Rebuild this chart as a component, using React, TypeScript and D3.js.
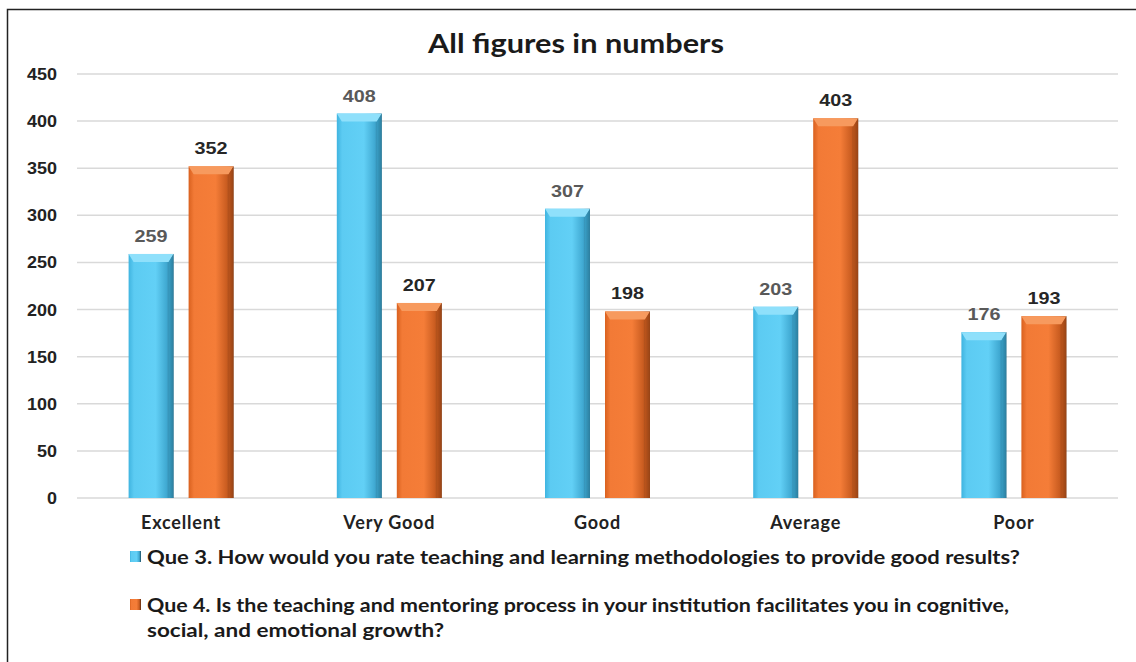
import React from "react";
import * as d3 from "d3";

const categories = ["Excellent", "Very Good", "Good", "Average", "Poor"];
const que3Values = [259, 408, 307, 203, 176];
const que4Values = [352, 207, 198, 403, 193];
const yTicks = [0, 50, 100, 150, 200, 250, 300, 350, 400, 450];
const seriesKeys = ["q3", "q4"];
const seriesNames = [
  "Que 3. How would you rate teaching and learning methodologies to provide good results?",
  "Que 4. Is the teaching and mentoring process in your institution facilitates you in cognitive,",
  "social, and emotional growth?",
];

const W = 1136;
const H = 662;
const FONT = "Lato, 'Open Sans', sans-serif";
const NUMFONT = "'Liberation Sans', Arial, sans-serif";

export default function App() {
  const x = d3.scaleBand<string>().domain(categories).range([77, 1118]).padding(0);
  const inner = d3.scaleBand<string>().domain(seriesKeys).range([-52.5, 52.5]).paddingInner(0.25);
  const y = d3.scaleLinear().domain([0, 450]).range([498, 74]);
  const bw = inner.bandwidth();

  const data = categories.map((c, i) => ({ c, q3: que3Values[i], q4: que4Values[i] }));

  const bar = (key: string, cat: string, v: number) => {
    const cx = (x(cat) as number) + x.bandwidth() / 2;
    const bx = cx + (inner(key) as number);
    const by = y(v);
    const bh = y(0) - by;
    const gid = key === "q3" ? "gBlue" : "gOrange";
    const cap = key === "q3" ? "#8fe0fb" : "#f79a5e";
    const capDark = key === "q3" ? "#3aa9d3" : "#c85a1e";
    const label = String(v);
    return (
      <g key={key + cat}>
        <rect x={bx} y={by} width={bw} height={bh} fill={`url(#${gid})`} />
        <path
          d={`M${bx},${by} L${bx + bw},${by} L${bx + bw - 5},${by + 8} L${bx + 5},${by + 8} Z`}
          fill={cap}
        />
        <path d={`M${bx + bw},${by} L${bx + bw - 5},${by + 8} L${bx + bw - 5},${by + bh} L${bx + bw},${by + bh} Z`} fill={capDark} opacity={0.55} />
        <text
          x={bx + bw / 2}
          y={by - 12}
          textAnchor="middle"
          fontFamily={NUMFONT}
          fontWeight="bold"
          fontSize={17}
          fill={key === "q3" ? "#595959" : "#262626"}
          textLength={label.length * 11}
          lengthAdjust="spacingAndGlyphs"
        >
          {label}
        </text>
      </g>
    );
  };

  return (
    <svg width={W} height={H} style={{ position: "absolute", left: 0, top: 0, background: "#fff" }}>
      <defs>
        <linearGradient id="gBlue" x1="0" x2="1" y1="0" y2="0">
          <stop offset="0" stopColor="#3fb4e0" />
          <stop offset="0.12" stopColor="#5ccbf2" />
          <stop offset="0.6" stopColor="#62d0f6" />
          <stop offset="0.85" stopColor="#3fa8d1" />
          <stop offset="1" stopColor="#1d4a5e" />
        </linearGradient>
        <linearGradient id="gOrange" x1="0" x2="1" y1="0" y2="0">
          <stop offset="0" stopColor="#d9611f" />
          <stop offset="0.12" stopColor="#f27a36" />
          <stop offset="0.6" stopColor="#f57d38" />
          <stop offset="0.85" stopColor="#c95c20" />
          <stop offset="1" stopColor="#5a2a0e" />
        </linearGradient>
      </defs>
      <rect x={0} y={0} width={W} height={H} fill="#fff" />
      <path d={`M7.5,${H} L7.5,9.5 L${W},9.5`} fill="none" stroke="#222" strokeWidth={1.5} />

      <text x={576} y={53} textAnchor="middle" fontFamily={FONT} fontWeight="bold" fontSize={26} fill="#1a1a1a" textLength={296} lengthAdjust="spacingAndGlyphs">
        All figures in numbers
      </text>

      {yTicks.map((t) => (
        <g key={t}>
          <line x1={77} x2={1118} y1={y(t)} y2={y(t)} stroke="#d9d9d9" strokeWidth={1.5} />
          <text
            x={57}
            y={y(t) + 6}
            textAnchor="end"
            fontFamily={NUMFONT}
            fontWeight="bold"
            fontSize={17}
            fill="#222"
            textLength={String(t).length * 10}
            lengthAdjust="spacingAndGlyphs"
          >
            {t}
          </text>
        </g>
      ))}

      {data.map((d) => (
        <g key={d.c}>
          {bar("q3", d.c, d.q3)}
          {bar("q4", d.c, d.q4)}
        </g>
      ))}

      {categories.map((c) => (
        <text
          key={c}
          x={(x(c) as number) + x.bandwidth() / 2}
          y={529}
          textAnchor="middle"
          fontFamily={FONT}
          fontWeight="bold"
          fontSize={18}
          letterSpacing={0.8}
          fill="#222"
        >
          {c}
        </text>
      ))}

      <rect x={130} y={551} width={11} height={11} fill="url(#gBlue)" />
      <text x={147} y={564} fontFamily={FONT} fontWeight="bold" fontSize={18} fill="#1a1a1a" textLength={873} lengthAdjust="spacingAndGlyphs">
        {seriesNames[0]}
      </text>
      <rect x={130} y={599} width={11} height={11} fill="url(#gOrange)" />
      <text x={147} y={612} fontFamily={FONT} fontWeight="bold" fontSize={18} fill="#1a1a1a" textLength={862} lengthAdjust="spacingAndGlyphs">
        {seriesNames[1]}
      </text>
      <text x={147} y={637} fontFamily={FONT} fontWeight="bold" fontSize={18} fill="#1a1a1a" textLength={297} lengthAdjust="spacingAndGlyphs">
        {seriesNames[2]}
      </text>
    </svg>
  );
}
